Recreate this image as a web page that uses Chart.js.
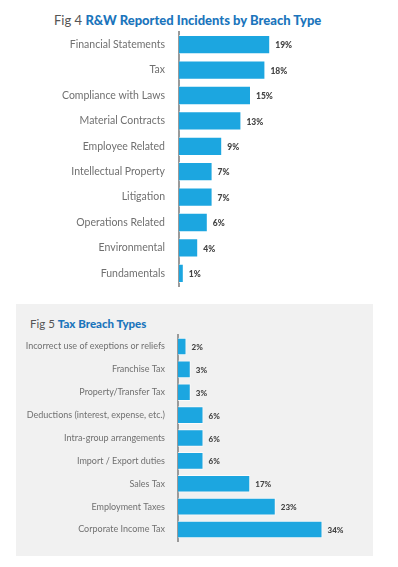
<!DOCTYPE html>
<html>
<head>
<meta charset="utf-8">
<script src="https://cdn.jsdelivr.net/npm/chart.js@4"></script>
<style>
  html, body { margin: 0; padding: 0; background: #fff; }
  body { width: 398px; height: 567px; position: relative; overflow: hidden; font-family: Lato, sans-serif; }
  .title { position: absolute; white-space: nowrap; color: #555; }
  .title b { color: #1b75bc; font-weight: 900; }
  #t4 { left: 54px; top: 12px; font-size: 13px; }
  #box5 { position: absolute; left: 16px; top: 304px; width: 357px; height: 252px; background: #f1f1f1; }
  #t5 { left: 30px; top: 317px; font-size: 11.5px; }
  .wrap { position: absolute; left: 0; width: 398px; }
  #w4 { top: 31px; height: 256px; }
  #w5 { top: 333px; height: 210px; }
</style>
</head>
<body>
<div class="title" id="t4">Fig 4 <b>R&amp;W Reported Incidents by Breach Type</b></div>
<div id="box5"></div>
<div class="title" id="t5">Fig 5 <b>Tax Breach Types</b></div>
<div class="wrap" id="w4"><canvas id="c4"></canvas></div>
<div class="wrap" id="w5"><canvas id="c5"></canvas></div>
<script>
const breachTypes = [
  "Financial Statements", "Tax", "Compliance with Laws", "Material Contracts",
  "Employee Related", "Intellectual Property", "Litigation", "Operations Related",
  "Environmental", "Fundamentals",
];
const breachPct = [19, 18, 15, 13, 9, 7, 7, 6, 4, 1];

const taxTypes = [
  "Incorrect use of exeptions or reliefs", "Franchise Tax", "Property/Transfer Tax",
  "Deductions (interest, expense, etc.)", "Intra-group arrangements",
  "Import / Export duties", "Sales Tax", "Employment Taxes", "Corporate Income Tax",
];
const taxPct = [2, 3, 3, 6, 6, 6, 17, 23, 34];

const C = {
  bar:   "#1ca6e0",
  edge:  "rgba(255,255,255,0.7)",
  axis:  "#9a9a9a",
  label: "#707070",
  value: "#444",
};

// value text just past the end of each bar
const valueLabels = {
  id: "valueLabels",
  afterDatasetsDraw(chart, args, opts) {
    const { ctx } = chart;
    const meta = chart.getDatasetMeta(0);
    ctx.save();
    ctx.font = `900 ${opts.size}px Lato, sans-serif`;
    ctx.fillStyle = C.value;
    ctx.textBaseline = "middle";
    meta.data.forEach((bar, i) => {
      const v = chart.data.datasets[0].data[i];
      ctx.fillText(`${v}%`, bar.x + opts.gap, bar.y + 1);
    });
    ctx.restore();
  },
};

function drawBars(id, labels, data, o) {
  return new Chart(document.getElementById(id), {
    type: "bar",
    data: {
      labels,
      datasets: [{
        data,
        backgroundColor: C.bar,
        borderColor: C.edge,
        borderWidth: { top: 1, bottom: 1, right: 1, left: 0 },
        categoryPercentage: 1,
        barPercentage: o.barPct,
      }],
    },
    options: {
      indexAxis: "y",
      responsive: true,
      maintainAspectRatio: false,
      animation: false,
      layout: { padding: { top: o.padTop, bottom: o.padBottom, right: o.padRight } },
      plugins: {
        legend: { display: false },
        tooltip: { enabled: false },
        valueLabels: { size: o.valueSize, gap: 5 },
      },
      scales: {
        x: { display: false, min: 0, max: o.max },
        y: {
          afterFit: s => { s.width = o.axisX; s.paddingTop = 0; s.paddingBottom = 0; },
          grid: { display: false },
          border: { display: true, color: C.axis, width: 2 },
          ticks: { color: C.label, font: { family: "Lato", size: o.labelSize }, padding: o.tickPad },
        },
      },
    },
    plugins: [valueLabels],
  });
}

drawBars("c4", breachTypes, breachPct, {
  axisX: 179, max: 40, padRight: 398 - 179 - 192, tickPad: 6,
  padTop: 1, padBottom: 1, barPct: 0.76, labelSize: 10.5, valueSize: 8.5,
});
drawBars("c5", taxTypes, taxPct, {
  axisX: 178, max: 40, padRight: 398 - 178 - 170, tickPad: 5,
  padTop: 2, padBottom: 2, barPct: 0.77, labelSize: 9, valueSize: 8,
});
</script>
</body>
</html>
